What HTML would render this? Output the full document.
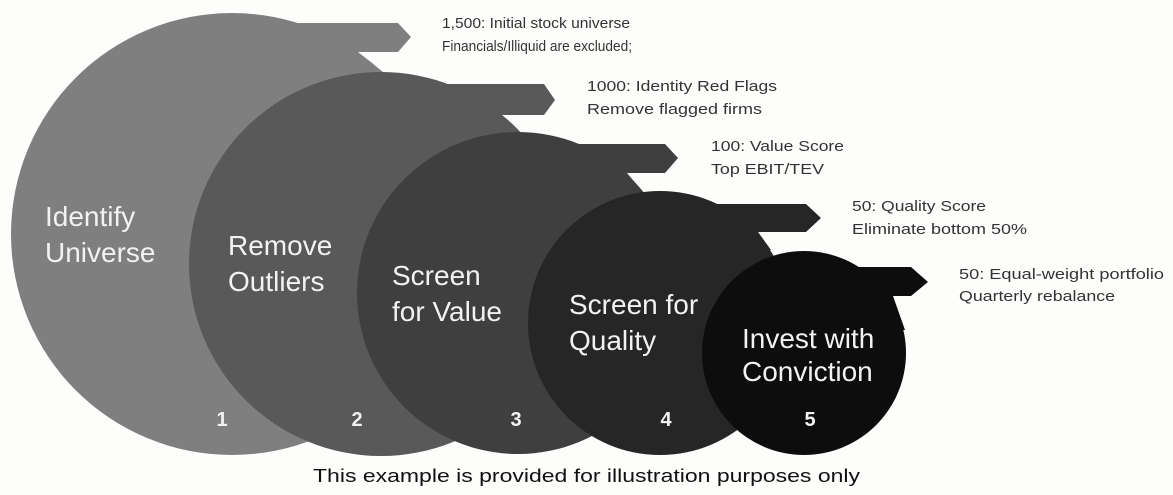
<!DOCTYPE html>
<html><head><meta charset="utf-8"><style>
html,body{margin:0;padding:0;background:#fdfdfb;}
svg{display:block;}
text{font-family:"Liberation Sans",sans-serif;}
</style></head><body>
<svg width="1173" height="495" viewBox="0 0 1173 495" xmlns="http://www.w3.org/2000/svg">
<rect width="1173" height="495" fill="#fdfdfb"/>
<!-- 1 -->
<circle cx="232" cy="234" r="221" fill="#7f7f7f"/>
<polygon points="232,23 398,23 411,37 398,52 358,52 383,72 232,72" fill="#7f7f7f"/>
<!-- 2 -->
<circle cx="381" cy="264" r="192" fill="#595959"/>
<polygon points="381,84 544,84 555,100 544,115 497,115 514,128 381,128" fill="#595959"/>
<!-- 3 -->
<circle cx="518" cy="293" r="161" fill="#3f3f3f"/>
<polygon points="518,144 665,144 678,158 665,173 627,173 643,192 518,192" fill="#3f3f3f"/>
<!-- 4 -->
<circle cx="660" cy="323" r="132" fill="#262626"/>
<polygon points="660,204 806,204 821,218 806,232 758,232 771,250 660,250" fill="#262626"/>
<!-- 5 -->
<circle cx="804" cy="353" r="102" fill="#0d0d0d"/>
<polygon points="804,267 911,267 928,282 911,296 893,296 905,330 804,330" fill="#0d0d0d"/>

<g fill="#f2f2f2" font-size="28">
<text x="45" y="226">Identify</text>
<text x="45" y="262">Universe</text>
<text x="228" y="255">Remove</text>
<text x="228" y="291">Outliers</text>
<text x="392" y="285">Screen</text>
<text x="392" y="321">for Value</text>
<text x="569" y="314">Screen for</text>
<text x="569" y="350">Quality</text>
<text x="742" y="348">Invest with</text>
<text x="742" y="381">Conviction</text>
</g>
<g fill="#f2f2f2" font-size="20" font-weight="bold" text-anchor="middle">
<text x="222" y="426">1</text>
<text x="357" y="426">2</text>
<text x="516" y="426">3</text>
<text x="666" y="426">4</text>
<text x="810" y="426">5</text>
</g>
<g fill="#333" font-size="14.5">
<text x="442" y="28" textLength="188" lengthAdjust="spacingAndGlyphs">1,500: Initial stock universe</text>
<text x="442" y="51" textLength="190" lengthAdjust="spacingAndGlyphs">Financials/Illiquid are excluded;</text>
<text x="587" y="91" textLength="190" lengthAdjust="spacingAndGlyphs">1000: Identity Red Flags</text>
<text x="587" y="114" textLength="175" lengthAdjust="spacingAndGlyphs">Remove flagged firms</text>
<text x="711" y="151" textLength="133" lengthAdjust="spacingAndGlyphs">100: Value Score</text>
<text x="711" y="174" textLength="113" lengthAdjust="spacingAndGlyphs">Top EBIT/TEV</text>
<text x="852" y="211" textLength="134" lengthAdjust="spacingAndGlyphs">50: Quality Score</text>
<text x="852" y="234" textLength="175" lengthAdjust="spacingAndGlyphs">Eliminate bottom 50%</text>
<text x="959" y="279" textLength="205" lengthAdjust="spacingAndGlyphs">50: Equal-weight portfolio</text>
<text x="959" y="301" textLength="156" lengthAdjust="spacingAndGlyphs">Quarterly rebalance</text>
</g>
<text x="313" y="482" font-size="18" fill="#111" textLength="547" lengthAdjust="spacingAndGlyphs">This example is provided for illustration purposes only</text>
</svg>
</body></html>
